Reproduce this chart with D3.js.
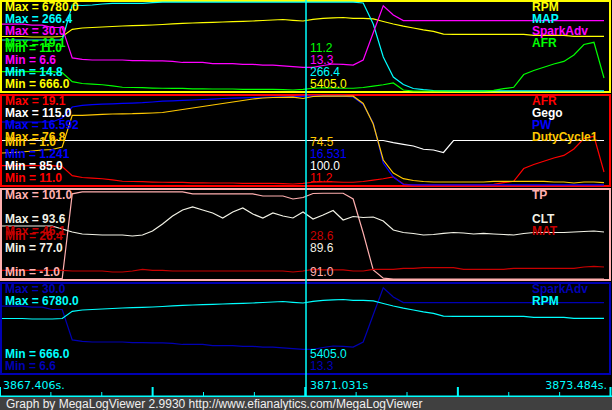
<!DOCTYPE html>
<html><head><meta charset="utf-8">
<script src="https://cdnjs.cloudflare.com/ajax/libs/d3/7.8.5/d3.min.js"></script>
<style>body{margin:0;background:#000;overflow:hidden}svg{display:block}</style>
</head><body>
<svg id="chart" width="612" height="410"></svg>
<script>
// ---------------- data (one value per log record) ----------------
const rpm = [4410,4410,4410,4376,4376,4376,4410,4904,4994,5028,5063,5097,5131,5152,5179,5200,5234,5282,5317,5337,5358,5385,5406,5427,5454,5475,5509,5543,5578,5523,5475,5591,5660,5695,5715,5660,5660,5626,5440,5269,5117,4994,4870,4767,4568,4561,4561,4561,4561,4561,4561,4561,4561,4492,4492,4492,4492,4424,4424,4424,4424];
const map = [159,159,159,159,159,159,159,257.9,256.5,257.9,260.7,262.7,262.7,262.7,262.7,264.4,266,266,266,266,266,266,266,266,266,266,266,266,266,266,266.4,266,266,266,266,266,263.6,204.2,110.9,54.4,33.2,21.9,18.5,16.2,15.5,15,15,15,15,15,15,15,15,15,15,15,15,15,15,15,15];
const sparkAdv = [24.2,24.2,24.2,23.9,23.9,23.3,23.3,15.3,14.9,14.75,14.75,14.75,14.75,14.6,14.6,14.5,14.5,14.4,14.1,14.1,14.1,13.8,13.8,13.8,13.6,13.6,13.4,13.4,13.2,13.0,12.8,12.8,13.3,13.7,13.6,13.4,14.75,21.9,29.0,26.6,25.1,25.1,25.1,25.1,25.1,25.1,25.1,25.1,25.1,25.1,25.1,25.1,25.1,25.1,25.1,25.1,25.1,25.1,25.1,25.1,25.1];
const afr = [12.76,12.76,12.76,12.76,12.76,12.76,12.68,11.85,11.68,11.62,11.57,11.46,11.34,11.32,11.30,11.27,11.25,11.23,11.23,11.20,11.20,11.18,11.18,11.18,11.14,11.14,11.14,11.14,11.12,11.09,11.14,11.25,11.29,11.29,11.25,11.25,11.32,11.44,11.57,11.73,11.09,11.0,11.0,11.0,11.0,11.0,11.0,11.0,11.0,11.05,11.21,11.34,12.50,12.87,13.16,13.46,13.69,14.28,15.23,15.43,12.18];
const gego = [100,100,100,100,100,100,100,100,100,100,100,100,100,100,100,100,100,100,100,100,100,100,100,100,100,100,100,100,100,100,100,100,100,100,100,100,100,100,100,99.26,98.72,98.15,97.04,96.8,95.96,100,100,100,100,100,100,100,100,100,100,100,100,100,100,100,100];
const pw = [12.11,12.11,12.11,12.11,12.11,12.11,12.80,14.69,14.99,15.11,15.18,15.25,15.32,15.38,15.45,15.56,15.70,15.76,15.83,15.90,15.99,16.07,16.16,16.21,16.28,16.33,16.38,16.42,16.45,16.51,16.54,16.56,16.56,16.56,16.56,16.42,15.13,11.93,5.03,2.62,1.33,1.25,1.25,1.25,1.25,1.25,1.25,1.25,1.25,1.25,1.25,1.25,1.25,1.25,1.25,1.25,1.25,1.25,1.25,1.25,1.25];
const dutyCycle1 = [28.25,28.68,29.10,29.96,30.81,31.23,33.36,60.36,60.36,60.79,61.21,61.47,61.64,61.72,62.07,62.32,62.75,64.02,65.30,66.58,67.86,69.13,70.41,71.69,72.97,74.25,75.10,75.52,75.69,75.78,74.67,76.37,76.63,76.63,76.63,76.63,70.41,52.95,22.29,11.22,6.36,4.83,3.98,3.55,3.55,3.55,3.55,3.55,3.55,4.15,4.15,4.15,4.15,4.15,4.15,3.55,3.55,2.70,3.55,3.55,2.96];
const tp = [-0.5,-0.5,-0.5,-0.5,-0.5,-0.5,-0.5,96.56,98.85,98.85,98.85,98.85,98.85,98.85,98.85,98.85,98.85,98.85,98.85,96.56,96.56,96.56,96.56,96.56,96.56,96.56,94.12,94.12,94.12,90.69,92.4,97.0,97.3,97.3,97.3,90.69,51.7,9.3,0,-1,-1,-1,-1,-1,-1,-1,-1,-1,-1,-1,-1,-1,-1,-1,-1,-1,-1,-1,-1,-1,-1];
const clt = [86.89,86.89,86.89,86.89,86.89,86.89,86.33,85.77,85.39,85.30,85.21,85.21,85.21,85.02,85.21,85.95,87.26,88.75,89.87,90.43,89.87,89.31,88.38,89.50,90.24,89.12,88.38,89.31,88.75,88.38,89.50,88.19,88.94,89.78,88.0,88.66,88.47,88.56,87.82,86.14,85.67,85.49,85.21,85.30,85.52,85.67,85.58,85.39,85.52,85.39,85.30,85.21,85.49,85.67,85.67,85.67,85.67,85.77,85.86,85.95,85.77];
const mat = [28.29,28.29,28.29,28.29,28.29,28.29,28.29,28.17,28.17,28.17,28.17,27.95,27.95,28.17,28.51,28.33,28.33,28.17,28.17,28.17,28.17,28.17,28.17,28.17,28.17,28.17,28.17,28.17,28.17,27.95,28.17,28.51,28.40,28.40,28.40,28.17,28.17,28.51,28.51,28.51,28.77,28.77,28.90,28.90,28.90,28.90,28.55,28.55,28.55,28.55,28.55,28.77,28.77,28.77,28.77,28.77,28.77,28.77,29.06,29.21,29.06];

const p1Names = ["RPM","MAP","SparkAdv","AFR"];
const p1Max = [6780.0, 266.4, 30.0, 19.1];
const p1Min = [666.0, 14.8, 6.6, 11.0];
const p1Cursor = [5405.0, 266.4, 13.3, 11.2];

const p2Names = ["AFR","Gego","PW","DutyCycle1"];
const p2Max = [19.1, 115.0, 16.592, 76.8];
const p2Min = [11.0, 85.0, 1.241, 1.0];
const p2Cursor = [11.2, 100.0, 16.531, 74.5];

const p3Names = ["TP","","CLT","MAT"];
const p3Max = [101.0, null, 93.6, 46.1];
const p3Min = [-1.0, null, 77.0, 26.4];
const p3Cursor = [91.0, null, 89.6, 28.6];

const p4Names = ["SparkAdv","RPM"];
const p4Max = [30.0, 6780.0];
const p4Min = [6.6, 666.0];
const p4Cursor = [13.3, 5405.0];

const cursorRecord = 30.3;
const timeLabels = ["3867.406s.", "3871.031s", "3873.484s."];
const tickCount = 12;
const footerText = "Graph by MegaLogViewer 2.9930 http://www.efianalytics.com/MegaLogViewer";

// ---------------- styles / layout ----------------
const C = {yellow:"#ffff00", cyan:"#00ffff", magenta:"#ff00ff", green:"#00ff00", red:"#ff0000",
  white:"#ffffff", blue:"#0000ff", orange:"#ffc800", pink:"#ffafaf", ivory:"#f2f2e6", darkred:"#c80000", navy:"#0000b4"};
const decimals = {PW:3};
const panels = [
  {border:C.yellow, names:p1Names, max:p1Max, min:p1Min, cur:p1Cursor, data:[rpm,map,sparkAdv,afr], colors:[C.yellow,C.cyan,C.magenta,C.green]},
  {border:C.red, names:p2Names, max:p2Max, min:p2Min, cur:p2Cursor, data:[afr,gego,pw,dutyCycle1], colors:[C.red,C.white,C.blue,C.orange]},
  {border:C.pink, names:p3Names, max:p3Max, min:p3Min, cur:p3Cursor, data:[tp,null,clt,mat], colors:[C.pink,null,C.ivory,C.darkred]},
  {border:C.navy, names:p4Names, max:p4Max, min:p4Min, cur:p4Cursor, data:[sparkAdv,rpm], colors:[C.navy,C.cyan]}
];

const W = 612, H = 410;
const panelStep = 94, panelH = 93;
const svg = d3.select("#chart");
svg.append("rect").attr("width",W).attr("height",H).attr("fill","#000");

const x = d3.scaleLinear().domain([0, rpm.length-1]).range([2, 604]);
const FONT = "'Liberation Sans', Arial, sans-serif";
const fmt = (v, dec) => Number(v).toFixed(dec);

panels.forEach((p, k) => {
  const top = k*panelStep;
  const g = svg.append("g");
  g.append("rect").attr("x",1).attr("y",top+1).attr("width",609).attr("height",panelH-2)
    .attr("fill","none").attr("stroke",p.border).attr("stroke-width",2);
  // lines
  p.data.forEach((d, i) => {
    if (!d) return;
    const y = d3.scaleLinear().domain([p.min[i], p.max[i]]).range([top+91, top+2]);
    const line = d3.line().x((v,j)=>x(j)).y(v=>y(v));
    g.append("path").attr("d", line(d)).attr("fill","none").attr("stroke",p.colors[i])
      .attr("stroke-width",1.2);
  });
  // labels
  p.names.forEach((n, i) => {
    if (!n) return;
    const dec = decimals[n] !== undefined ? decimals[n] : 1;
    const maxY = top + 11 + 12*i;
    const minY = top + 88 - 12*i;
    g.append("text").attr("x",5).attr("y",maxY).text("Max = " + fmt(p.max[i], dec))
      .attr("fill",p.colors[i]).attr("font-family",FONT).attr("font-weight","bold").attr("font-size",12);
    g.append("text").attr("x",5).attr("y",minY).text("Min = " + fmt(p.min[i], dec))
      .attr("fill",p.colors[i]).attr("font-family",FONT).attr("font-weight","bold").attr("font-size",12);
    g.append("text").attr("x",532).attr("y",maxY).text(n)
      .attr("fill",p.colors[i]).attr("font-family",FONT).attr("font-weight","bold").attr("font-size",12);
    g.append("text").attr("x",310).attr("y",minY).text(fmt(p.cur[i], dec))
      .attr("fill",p.colors[i]).attr("font-family",FONT).attr("font-size",12);
  });
});

// time axis
const tx = d3.scaleLinear().domain([0, tickCount]).range([0, 610.5]);
const axisG = svg.append("g");
axisG.append("rect").attr("x",0).attr("y",395.5).attr("width",W).attr("height",1.5).attr("fill",C.cyan);
d3.range(tickCount+1).forEach(t => {
  const major = t % 3 === 0;
  axisG.append("rect").attr("x", tx(t) - (major?1:0.5)).attr("width", major?2:1)
    .attr("y", major?387:392).attr("height", major?9:4.5).attr("fill", C.cyan);
});
const TFONT = "'DejaVu Sans', sans-serif";
axisG.append("text").attr("x",3).attr("y",389).text(timeLabels[0]).attr("fill",C.cyan).attr("font-family",TFONT).attr("font-size",11);
axisG.append("text").attr("x",310).attr("y",389).text(timeLabels[1]).attr("fill",C.cyan).attr("font-family",TFONT).attr("font-size",11);
axisG.append("text").attr("x",607).attr("y",389).attr("text-anchor","end").text(timeLabels[2]).attr("fill",C.cyan).attr("font-family",TFONT).attr("font-size",11);

// cursor
svg.append("line").attr("x1",x(cursorRecord)).attr("x2",x(cursorRecord)).attr("y1",0).attr("y2",396)
  .attr("stroke",C.cyan).attr("stroke-width",1.5);

// footer
svg.append("rect").attr("x",0).attr("y",397).attr("width",W).attr("height",13).attr("fill","#404040");
svg.append("text").attr("x",6).attr("y",408).text(footerText).attr("fill","#f0f0f0")
  .attr("font-family",FONT).attr("font-size",12);
</script>
</body></html>
